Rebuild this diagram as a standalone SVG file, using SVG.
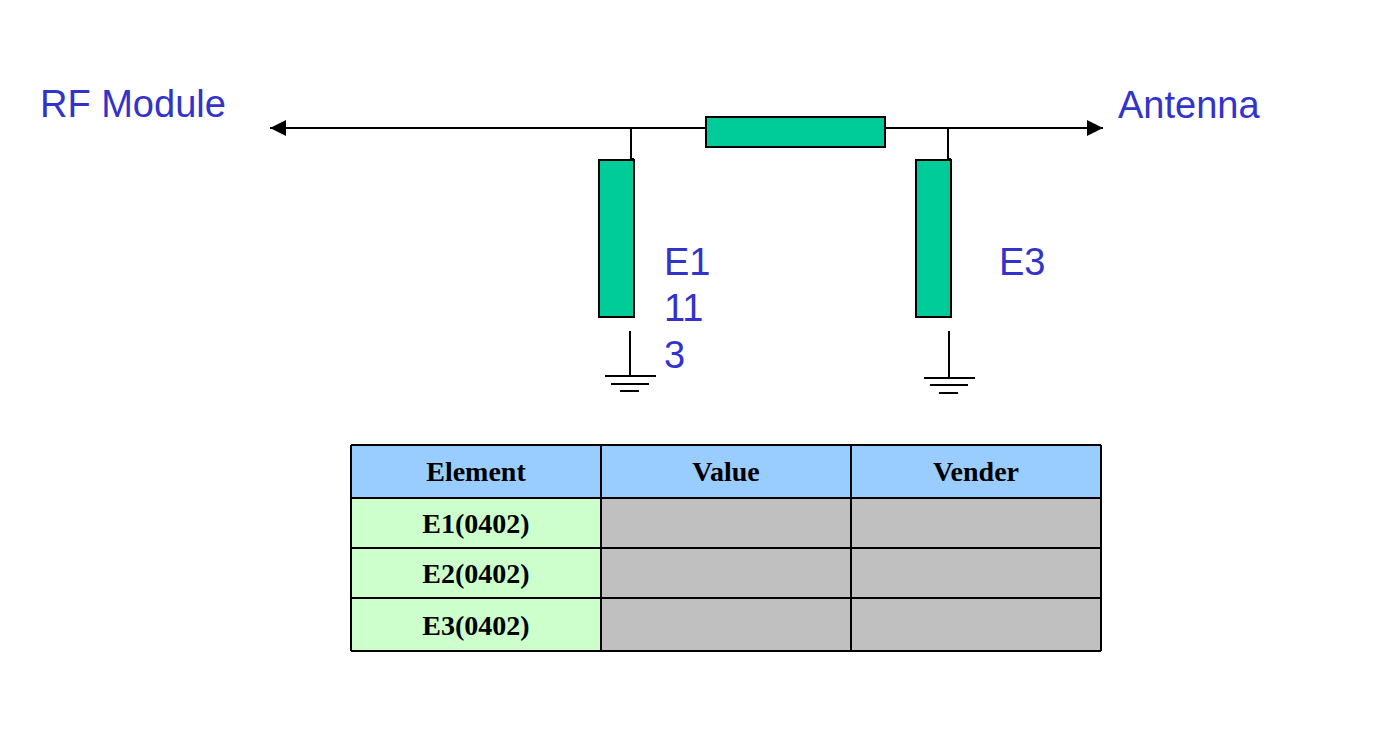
<svg xmlns="http://www.w3.org/2000/svg" width="1400" height="750" viewBox="0 0 1400 750">
<style>
.lbl{font-family:"Liberation Sans",Arial,sans-serif;font-size:38px;fill:#3333CC}
.part{fill:#00CC99;stroke:#000;stroke-width:2}
.w{stroke:#000;stroke-width:2;fill:none}
.th{font-family:"Liberation Serif","Times New Roman",serif;font-size:28px;font-weight:bold;text-anchor:middle}
.cell{stroke:#000;stroke-width:2}
</style>
<defs><marker id="ar" markerWidth="10" markerHeight="10" refX="9" refY="5" orient="auto-start-reverse" markerUnits="userSpaceOnUse"><path d="M0,0 L16,5 L0,10z" transform="scale(1)" fill="#000"/></marker>
<marker id="a2" viewBox="0 0 16 16" markerWidth="16" markerHeight="16" refX="16" refY="8" orient="auto-start-reverse" markerUnits="userSpaceOnUse"><path d="M0,0 L16,8 L0,16z" fill="#000"/></marker></defs>
<g id="connectors">
<line class="w" x1="270" y1="128" x2="1103" y2="128" marker-start="url(#a2)" marker-end="url(#a2)"/>
<line class="w" x1="631" y1="128" x2="631" y2="160"/>
<line x1="632" y1="158" x2="632" y2="173" stroke="#000" stroke-width="4"/>
<line class="w" x1="948" y1="128" x2="948" y2="160"/>
<line x1="949" y1="158" x2="949" y2="173" stroke="#000" stroke-width="4"/>
</g>
<g id="E2"><rect class="part" x="706" y="117" width="179" height="30"/></g>
<g id="E1"><rect class="part" x="599" y="160" width="35" height="157"/></g>
<g id="E3"><rect class="part" x="916" y="160" width="35" height="157"/></g>
<g id="gnd1" class="w"><line x1="630" y1="331" x2="630" y2="376"/><line x1="605" y1="376" x2="656" y2="376"/><line x1="611" y1="384" x2="649" y2="384"/><line x1="620" y1="391" x2="639" y2="391"/></g>
<g id="gnd2" class="w"><line x1="949" y1="331" x2="949" y2="378"/><line x1="924" y1="378" x2="975" y2="378"/><line x1="930" y1="385" x2="968" y2="385"/><line x1="939" y1="393" x2="958" y2="393"/></g>
<g id="labels">
<text class="lbl" x="40" y="117">RF Module</text>
<text class="lbl" x="1118" y="118">Antenna</text>
<text class="lbl" x="664" y="275">E1</text>
<text class="lbl" x="664" y="321">11</text>
<text class="lbl" x="664" y="368">3</text>
<text class="lbl" x="999" y="275">E3</text>
</g>
<g id="table">
<rect x="351" y="445" width="750" height="53" fill="#99CCFF"/>
<rect x="351" y="498" width="250" height="153" fill="#CCFFCC"/>
<rect x="601" y="498" width="500" height="153" fill="#C0C0C0"/>
<g class="cell">
<line x1="351" y1="445" x2="1101" y2="445"/><line x1="351" y1="498" x2="1101" y2="498"/><line x1="351" y1="548" x2="1101" y2="548"/><line x1="351" y1="598" x2="1101" y2="598"/><line x1="351" y1="651" x2="1101" y2="651"/>
<line x1="351" y1="445" x2="351" y2="651"/><line x1="601" y1="445" x2="601" y2="651"/><line x1="851" y1="445" x2="851" y2="651"/><line x1="1101" y1="445" x2="1101" y2="651"/>
</g>
<text class="th" x="476" y="481">Element</text>
<text class="th" x="726" y="481">Value</text>
<text class="th" x="976" y="481">Vender</text>
<text class="th" x="476" y="533">E1(0402)</text>
<text class="th" x="476" y="583">E2(0402)</text>
<text class="th" x="476" y="635">E3(0402)</text>
</g>
</svg>
